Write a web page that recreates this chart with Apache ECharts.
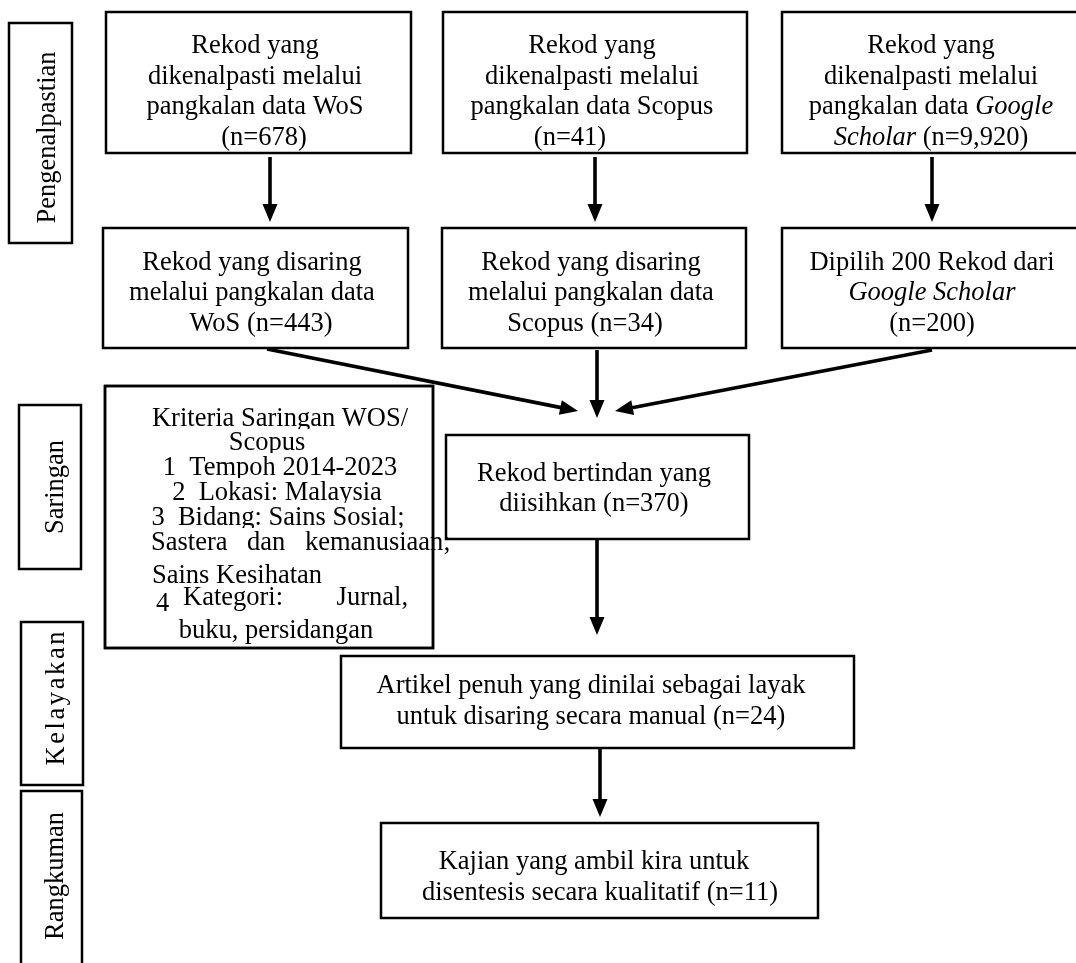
<!DOCTYPE html>
<html>
<head>
<meta charset="utf-8">
<script src="https://cdn.jsdelivr.net/npm/echarts@6/dist/echarts.min.js"></script>
<style>
html,body{margin:0;padding:0;background:#fff;}
#c{width:1076px;height:963px;}
</style>
</head>
<body>
<div id="c"></div>
<script>
// ---------- content ----------
const stageLabels = ['Pengenalpastian', 'Saringan', 'Kelayakan', 'Rangkuman'];
const sourceNames = ['WoS', 'Scopus', 'Google Scholar'];
const identifiedCounts = [678, 41, 9920];
const screenedCounts = [443, 34, 200];
const duplicatesRemoved = 370;
const eligibleCount = 24;
const includedCount = 11;
const criteriaLines = [
  ['Kriteria Saringan WOS/'],
  ['Scopus'],
  ['1  Tempoh 2014-2023'],
  ['2  Lokasi: Malaysia'],
  ['3  Bidang: Sains Sosial;'],
  ['Sastera', 'dan', 'kemanusiaan;'],
  ['Sains Kesihatan'],
  ['4', 'Kategori:', 'Jurnal,'],
  ['buku, persidangan']
];

const n = v => '(n=' + v.toLocaleString('en-US') + ')';
const it = s => '{i|' + s + '}';
const gs = sourceNames[2].split(' ');

const boxTexts = [
  ['Rekod yang', 'dikenalpasti melalui', 'pangkalan data ' + sourceNames[0], n(identifiedCounts[0])],
  ['Rekod yang', 'dikenalpasti melalui', 'pangkalan data ' + sourceNames[1], n(identifiedCounts[1])],
  ['Rekod yang', 'dikenalpasti melalui', 'pangkalan data ' + it(gs[0]), it(gs[1]) + ' ' + n(identifiedCounts[2])],
  ['Rekod yang disaring', 'melalui pangkalan data', sourceNames[0] + ' ' + n(screenedCounts[0])],
  ['Rekod yang disaring', 'melalui pangkalan data', sourceNames[1] + ' ' + n(screenedCounts[1])],
  ['Dipilih ' + screenedCounts[2] + ' Rekod dari', it(sourceNames[2]), n(screenedCounts[2])],
  ['Rekod bertindan yang', 'diisihkan ' + n(duplicatesRemoved)],
  ['Artikel penuh yang dinilai sebagai layak', 'untuk disaring secara manual ' + n(eligibleCount)],
  ['Kajian yang ambil kira untuk', 'disentesis secara kualitatif ' + n(includedCount)]
];

// ---------- layout (positions in the 1076 x 963 plotting space) ----------
const boxLayout = [
  {rect: [106, 12, 411, 153], cx: 255, y0: 46, lh: 30.7, shift: [0, 0, 0, 9]},
  {rect: [443, 12, 747, 153], cx: 592, y0: 46, lh: 30.7, shift: [0, 0, 0, -22]},
  {rect: [782, 12, 1092, 153], cx: 931, y0: 46, lh: 30.7},
  {rect: [103, 228, 408, 348], cx: 252, y0: 263, lh: 30.5, shift: [0, 0, 9]},
  {rect: [442, 228, 746, 348], cx: 591, y0: 263, lh: 30.5, shift: [0, 0, -6]},
  {rect: [782, 228, 1092, 348], cx: 932, y0: 263, lh: 30.5},
  {rect: [446, 435, 749, 539], cx: 594, y0: 474, lh: 30},
  {rect: [341, 656, 854, 748], cx: 591, y0: 686, lh: 31},
  {rect: [381, 823, 818, 918], cx: 594, y0: 862, lh: 31, shift: [0, 6]}
];
const stageLayout = [
  {rect: [9, 23, 72, 243], cx: 48, cy: 137.5, spacing: 0},
  {rect: [19, 405, 81, 569], cx: 56, cy: 487, spacing: 0},
  {rect: [21, 622, 83, 785], cx: 57, cy: 698.5, spacing: 2.6},
  {rect: [21, 791, 82, 990], cx: 56, cy: 876, spacing: 0}
];
const arrowLayout = [
  [270, 157, 270, 222],
  [595, 157, 595, 222],
  [932, 157, 932, 222],
  [267, 349, 578, 411],
  [597, 350, 597, 418],
  [932, 350, 615, 411],
  [597, 539, 597, 635],
  [600, 748, 600, 817]
];
const criteriaBox = [105, 386, 433, 648];
const criteriaLayout = [
  {y: 419, tokens: [[280, 'center', 0]], clip: 429},
  {y: 443, tokens: [[267, 'center', 0]], clip: 453},
  {y: 468, tokens: [[280, 'center', 0]], clip: 478},
  {y: 493, tokens: [[277, 'center', 0]], clip: 503},
  {y: 518, tokens: [[278, 'center', 0]], clip: 528},
  {y: 543, tokens: [[151, 'left', 0], [247, 'left', 0], [305, 'left', 0]]},
  {y: 576, tokens: [[152, 'left', 0]], clip: 586},
  {y: 598, tokens: [[156, 'left', 6], [183, 'left', 0], [408, 'right', 0]]},
  {y: 631, tokens: [[276, 'center', 0]]}
];

// ---------- styles ----------
const FF = '"Liberation Serif", "Times New Roman", serif';
const FS = 26.5;
const FONT = FS + 'px ' + FF;
const FONT_I = 'italic ' + FONT;
const BOX_LW = 2.5;
const ARROW_LW = 3.6;
const HEAD_L = 18, HEAD_W = 15;

const measureCtx = document.createElement('canvas').getContext('2d');
measureCtx.font = FONT;

function textEl(x, y, str, align) {
  return {
    type: 'text', x: x, y: y, z2: 10,
    style: {
      text: str, font: FONT, fill: '#000',
      align: align || 'center', verticalAlign: 'middle',
      rich: {i: {font: FONT_I, fill: '#000'}}
    }
  };
}

function renderBox(params, api) {
  const i = params.dataIndex;
  const L = boxLayout[i];
  const p0 = api.coord([api.value(0), api.value(1)]);
  const p1 = api.coord([api.value(2), api.value(3)]);
  const children = [{
    type: 'rect',
    shape: {x: p0[0], y: p0[1], width: p1[0] - p0[0], height: p1[1] - p0[1]},
    style: {fill: '#fff', stroke: '#000', lineWidth: BOX_LW}
  }];
  boxTexts[i].forEach((line, k) => {
    const dx = L.shift ? (L.shift[k] || 0) : 0;
    const c = api.coord([L.cx + dx, L.y0 + k * L.lh]);
    children.push(textEl(c[0], c[1], line, 'center'));
  });
  return {type: 'group', children: children};
}

function renderStage(params, api) {
  const i = params.dataIndex;
  const L = stageLayout[i];
  const p0 = api.coord([api.value(0), api.value(1)]);
  const p1 = api.coord([api.value(2), api.value(3)]);
  const c = api.coord([L.cx, L.cy]);
  const label = stageLabels[i];
  let letters;
  if (L.spacing) {
    const chars = label.split('');
    const widths = chars.map(ch => measureCtx.measureText(ch).width);
    const total = widths.reduce((a, b) => a + b, 0) + L.spacing * (chars.length - 1);
    let x = -total / 2;
    letters = chars.map((ch, k) => {
      const el = textEl(x, 0, ch, 'left');
      x += widths[k] + L.spacing;
      return el;
    });
  } else {
    letters = [textEl(0, 0, label, 'center')];
  }
  return {
    type: 'group',
    children: [
      {
        type: 'rect',
        shape: {x: p0[0], y: p0[1], width: p1[0] - p0[0], height: p1[1] - p0[1]},
        style: {fill: '#fff', stroke: '#000', lineWidth: BOX_LW}
      },
      {type: 'group', x: c[0], y: c[1], rotation: Math.PI / 2, children: letters}
    ]
  };
}

function renderArrow(params, api) {
  const a = api.coord([api.value(0), api.value(1)]);
  const b = api.coord([api.value(2), api.value(3)]);
  const dx = b[0] - a[0], dy = b[1] - a[1];
  const len = Math.sqrt(dx * dx + dy * dy);
  const ux = dx / len, uy = dy / len;
  const px = -uy, py = ux;
  const base = [b[0] - ux * HEAD_L, b[1] - uy * HEAD_L];
  return {
    type: 'group',
    children: [
      {
        type: 'line',
        shape: {x1: a[0], y1: a[1], x2: base[0] + ux * 2, y2: base[1] + uy * 2},
        style: {stroke: '#000', lineWidth: ARROW_LW}
      },
      {
        type: 'polygon',
        shape: {points: [
          [b[0], b[1]],
          [base[0] + px * HEAD_W / 2, base[1] + py * HEAD_W / 2],
          [base[0] - px * HEAD_W / 2, base[1] - py * HEAD_W / 2]
        ]},
        style: {fill: '#000'}
      }
    ]
  };
}

function renderCriteria(params, api) {
  const p0 = api.coord([api.value(0), api.value(1)]);
  const p1 = api.coord([api.value(2), api.value(3)]);
  const children = [{
    type: 'rect', z2: 0,
    shape: {x: p0[0], y: p0[1], width: p1[0] - p0[0], height: p1[1] - p0[1]},
    style: {fill: '#fff', stroke: '#000', lineWidth: BOX_LW}
  }];
  let z = 1;
  criteriaLines.forEach((tokens, k) => {
    const L = criteriaLayout[k];
    tokens.forEach((t, j) => {
      const tk = L.tokens[j];
      const c = api.coord([tk[0], L.y + tk[2]]);
      const el = textEl(c[0], c[1], t, tk[1]);
      el.z2 = z++;
      children.push(el);
    });
    if (L.clip) {
      const q0 = api.coord([api.value(0) + 2, L.clip]);
      const q1 = api.coord([api.value(2) - 2, L.clip + 7]);
      children.push({
        type: 'rect', z2: z++,
        shape: {x: q0[0], y: q0[1], width: q1[0] - q0[0], height: q1[1] - q0[1]},
        style: {fill: '#fff'}
      });
    }
  });
  children.push({
    type: 'rect', z2: z++,
    shape: {x: p0[0], y: p0[1], width: p1[0] - p0[0], height: p1[1] - p0[1]},
    style: {fill: 'none', stroke: '#000', lineWidth: BOX_LW}
  });
  return {type: 'group', children: children};
}

const chart = echarts.init(document.getElementById('c'), null, {renderer: 'canvas'});
const rectEncode = {x: [0, 2], y: [1, 3]};
chart.setOption({
  animation: false,
  backgroundColor: '#fff',
  grid: {left: 0, right: 0, top: 0, bottom: 0},
  xAxis: {type: 'value', min: 0, max: 1076, show: false},
  yAxis: {type: 'value', min: 0, max: 963, inverse: true, show: false},
  series: [
    {type: 'custom', silent: true, renderItem: renderStage, encode: rectEncode,
      data: stageLayout.map(s => s.rect)},
    {type: 'custom', silent: true, renderItem: renderBox, encode: rectEncode,
      data: boxLayout.map(b => b.rect)},
    {type: 'custom', silent: true, renderItem: renderCriteria, encode: rectEncode,
      data: [criteriaBox]},
    {type: 'custom', silent: true, renderItem: renderArrow, encode: rectEncode,
      data: arrowLayout}
  ]
});
</script>
</body>
</html>
